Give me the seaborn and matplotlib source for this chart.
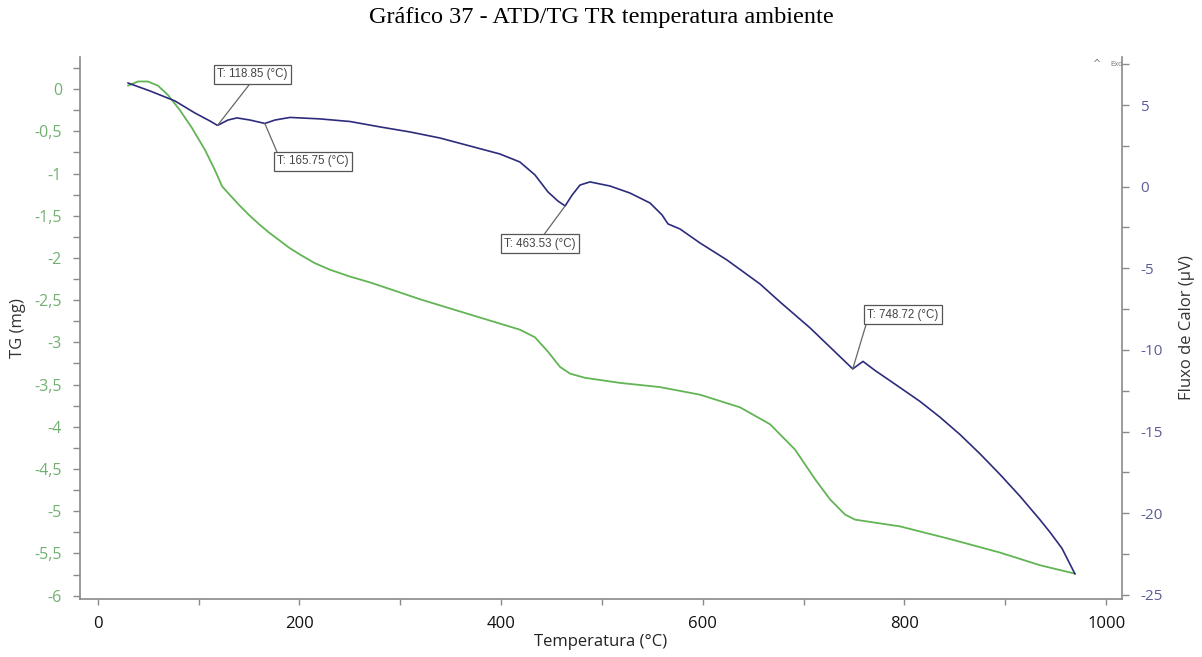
import numpy as np
import pandas as pd
import matplotlib
matplotlib.use("Agg")
import matplotlib.pyplot as plt
import seaborn as sns

# --- TG curve (mass change, mg) ---
tg_temp = [30.0, 40.0, 49.9, 59.8, 69.7, 81.6, 93.5, 106.4, 116.3, 123.3, 130.0,
           140.0, 150.0, 160.0, 170.0, 180.0, 190.0, 200.6, 215.0, 230.4, 250.0,
           270.1, 300.0, 319.7, 369.2, 418.7, 433.6, 446.5,
           458.4, 468.3, 483.2, 517.9, 557.6, 597.3, 637.0, 666.7, 691.5, 711.3,
           726.2, 741.1, 751.0, 795.6, 845.2, 894.7, 934.4, 969.1]
tg_mass = [0.04, 0.09, 0.09, 0.04, -0.07, -0.25, -0.46, -0.72, -0.96, -1.15, -1.24,
           -1.37, -1.49, -1.60, -1.70, -1.79, -1.88, -1.96, -2.06, -2.14, -2.22,
           -2.29, -2.41, -2.49, -2.67, -2.85, -2.94, -3.11,
           -3.29, -3.37, -3.42, -3.48, -3.53, -3.62, -3.77, -3.97, -4.27, -4.62,
           -4.86, -5.04, -5.10, -5.18, -5.33, -5.49, -5.64, -5.74]

# --- DTA curve (heat flow, uV) ---
dta_temp = [30.0, 51.9, 76.6, 96.5, 111.4, 118.85, 129.2, 138.1, 151.1, 165.75,
            175.8, 190.7, 220.4, 250.2, 279.9, 309.7, 339.4, 369.2, 398.9, 418.7,
            433.6, 446.5, 456.4, 463.53, 470.5, 478.3, 488.2, 508.0, 527.8, 547.7,
            559.6, 565.5, 577.4, 597.3, 624.0, 656.8, 676.6, 706.4, 731.2, 748.72,
            758.9, 770.7, 795.5, 815.4, 835.3, 855.1, 874.9, 894.7, 914.6, 934.4,
            944.3, 956.2, 969.1]
dta_flow = [6.35, 5.86, 5.25, 4.51, 4.02, 3.75, 4.08, 4.21, 4.08, 3.87,
            4.08, 4.24, 4.15, 3.99, 3.66, 3.35, 2.98, 2.49, 2.00, 1.51,
            0.72, -0.32, -0.88, -1.18, -0.51, 0.10, 0.29, 0.04, -0.39, -1.00,
            -1.73, -2.28, -2.59, -3.45, -4.49, -5.96, -7.06, -8.65, -10.12, -11.16,
            -10.70, -11.25, -12.30, -13.15, -14.12, -15.18, -16.36, -17.62, -18.96, -20.40,
            -21.16, -22.15, -23.72]

# --- Marked DTA peaks ---
peak_temps = [118.85, 165.75, 463.53, 748.72]
peak_labels = ["T: 118.85 (°C)", "T: 165.75 (°C)", "T: 463.53 (°C)", "T: 748.72 (°C)"]

# --- Axis ticks ---
x_ticks = [0, 200, 400, 600, 800, 1000]
tg_ticks = [0, -0.5, -1, -1.5, -2, -2.5, -3, -3.5, -4, -4.5, -5, -5.5, -6]
tg_tick_labels = ["0", "-0,5", "-1", "-1,5", "-2", "-2,5", "-3", "-3,5", "-4",
                  "-4,5", "-5", "-5,5", "-6"]
dta_ticks = [5, 0, -5, -10, -15, -20, -25]
dta_tick_labels = ["5", "0", "-5", "-10", "-15", "-20", "-25"]

sns.set_theme(style="white")
plt.rcParams["font.family"] = ["Open Sans", "DejaVu Sans"]

W, H = 1202, 657
fig = plt.figure(figsize=(W / 100, H / 100), dpi=100)
fig.patch.set_facecolor("white")
ax = fig.add_axes([80 / W, (H - 599) / H, (1122 - 80) / W, (599 - 57) / H])
ax2 = ax.twinx()

GREEN = "#62b455"
NAVY = "#2c2c7c"
TG_TICK = "#72b072"
DTA_TICK = "#5c5c98"
SPINE = "#8a8a8a"

tg_df = pd.DataFrame({"T": tg_temp, "TG": tg_mass})
dta_df = pd.DataFrame({"T": dta_temp, "DTA": dta_flow})

sns.lineplot(data=tg_df, x="T", y="TG", ax=ax, color=GREEN, lw=1.3,
             sort=False, estimator=None, zorder=3)
sns.lineplot(data=dta_df, x="T", y="DTA", ax=ax2, color=NAVY, lw=1.2,
             sort=False, estimator=None, zorder=4)

ax.set_xlim(-17.5, 1015.7)
ax.set_ylim(-6.04, 0.38)
ax2.set_ylim(-25.25, 7.94)

for a in (ax, ax2):
    a.set_facecolor("none")
    a.grid(False)
    for s in a.spines.values():
        s.set_color(SPINE)
        s.set_linewidth(1.2)
    a.spines["top"].set_visible(False)
ax.spines["right"].set_visible(False)
ax2.spines["left"].set_visible(False)
ax2.spines["bottom"].set_visible(False)

ax.set_xticks(x_ticks)
ax.set_xticklabels([str(v) for v in x_ticks])
ax.set_xticks(np.arange(0, 1001, 100), minor=True)
ax.set_yticks(tg_ticks)
ax.set_yticklabels(tg_tick_labels)
ax.set_yticks(np.arange(0.25, -6.01, -0.25), minor=True)
ax2.set_yticks(dta_ticks)
ax2.set_yticklabels(dta_tick_labels)
ax2.set_yticks(np.arange(7.5, -25.01, -2.5), minor=True)

ax.tick_params(axis="x", which="both", direction="out", length=4, width=1,
               color=SPINE, labelsize=12, labelcolor="#111111", pad=8,
               bottom=True)
ax.tick_params(axis="y", which="both", direction="out", length=5, width=1,
               color=SPINE, labelsize=11.5, labelcolor=TG_TICK, pad=8, left=True)
ax2.tick_params(axis="y", which="both", direction="out", length=5, width=1,
                color=SPINE, labelsize=11, labelcolor=DTA_TICK, pad=8, right=True)

ax.set_xlabel("Temperatura (°C)", fontsize=12, color="#222222", labelpad=2)
ax.set_ylabel("TG (mg)", fontsize=12, color="#333333", labelpad=6)
ax2.set_ylabel("Fluxo de Calor (µV)", fontsize=12, color="#333333", labelpad=12)

# Peak annotations on the DTA curve
offsets = [(35, 51), (48, -38), (-25, -38), (50, 54)]
relpos = [(0.5, 0.0), (0.02, 1.0), (0.52, 1.0), (0.0, 0.0)]
for t, lab, off, rp in zip(peak_temps, peak_labels, offsets, relpos):
    y = dta_flow[dta_temp.index(t)]
    ax2.annotate(lab, xy=(t, y), xytext=off, textcoords="offset pixels",
                 ha="center", va="center", fontsize=8.3, color="#444444",
                 family=["Liberation Sans", "DejaVu Sans"],
                 bbox=dict(boxstyle="square,pad=0.3", fc="white", ec="#555555", lw=0.9),
                 arrowprops=dict(arrowstyle="-", color="#666666", lw=0.9,
                                 relpos=rp, shrinkA=0, shrinkB=0),
                 zorder=6)

# Exothermic direction marker
fig.text(1097 / W, 1 - 64 / H, "^", fontsize=7, color="#777777",
         ha="center", va="center", family=["DejaVu Sans"])
fig.text(1110 / W, 1 - 65 / H, "Exo", fontsize=5, color="#777777",
         ha="left", va="center", family=["Liberation Sans", "DejaVu Sans"])

fig.text(0.5, 1 - 18 / H, "Gráfico 37 - ATD/TG TR temperatura ambiente",
         fontsize=17.5, color="black", ha="center", va="center",
         family=["Liberation Serif", "DejaVu Serif"])

fig.savefig("out.png", dpi=100, facecolor="white")
